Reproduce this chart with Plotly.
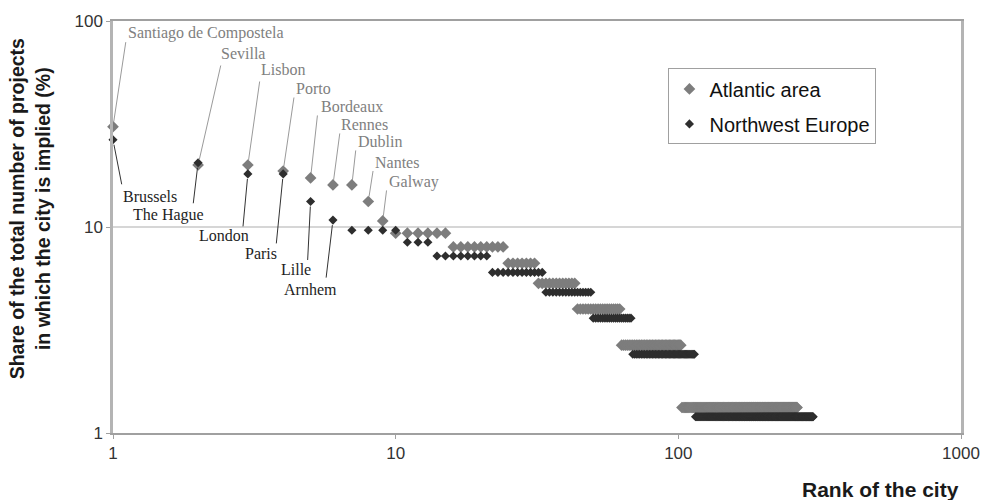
import numpy as np
import plotly.graph_objects as go

# step values (share %) and how many consecutive ranks share each value
atl_levels = [30.7, 20.0, 20.0, 18.7, 17.3, 16.0, 16.0, 13.3, 10.7, 9.33, 8.0, 6.67, 5.33, 4.0, 2.67, 1.33]
atl_counts = [1, 1, 1, 1, 1, 1, 1, 1, 1, 6, 9, 7, 12, 19, 40, 161]

nw_levels = [26.5, 20.5, 18.1, 18.1, 13.3, 10.8, 9.64, 8.43, 7.23, 6.02, 4.82, 3.61, 2.41, 1.2]
nw_counts = [1, 1, 1, 1, 1, 1, 4, 3, 8, 12, 16, 19, 46, 186]

atl_names = ["Santiago de Compostela", "Sevilla", "Lisbon", "Porto", "Bordeaux",
             "Rennes", "Dublin", "Nantes", "Galway"]
nw_names = ["Brussels", "The Hague", "London", "Paris", "Lille", "Arnhem"]

atl_share = np.repeat(atl_levels, atl_counts)
atl_rank = np.arange(1, len(atl_share) + 1)
nw_share = np.repeat(nw_levels, nw_counts)
nw_rank = np.arange(1, len(nw_share) + 1)

# label placement in pixels relative to the point: (text dx, text dy, line dx, line dy)
atl_offsets = [(14, -94, 13, -86), (22, -111, 23, -101), (12, -95, 12, -85), (12, -83, 11, -75),
               (9, -71, 7, -64), (7, -60, 7, -53), (5, -43, 4, -36), (6, -39, 5, -32), (5, -39, 4, -32)]
nw_offsets = [(9, 57, 9, 46), (-66, 52, -5, 42), (-50, 62, -5, 54), (-39, 80, -7, 71),
              (-31, 68, -3, 60), (-50, 69, -7, 59)]

ATL_COL = "#7d7d7d"
NW_COL = "#2e2e2e"

fig = go.Figure()
fig.add_trace(go.Scatter(x=atl_rank, y=atl_share, mode="markers", name="Atlantic area",
                         legendgroup="a", cliponaxis=False,
                         marker=dict(symbol="diamond", size=9, color=ATL_COL)))
fig.add_trace(go.Scatter(x=nw_rank, y=nw_share, mode="markers", name="Northwest Europe",
                         legendgroup="b", cliponaxis=False,
                         marker=dict(symbol="diamond", size=7, color=NW_COL)))

serif = "Liberation Serif"


def add_label(name, rank, share, off, tcol, lcol):
    tx, ty, lx, ly = off
    x = np.log10(rank)
    y = np.log10(share)
    fig.add_annotation(x=x, y=y, text="", showarrow=True, arrowhead=0, arrowwidth=1,
                       arrowcolor=lcol, ax=lx, ay=ly, standoff=5)
    fig.add_annotation(x=x, y=y, text=name, showarrow=False, xanchor="left", yanchor="middle",
                       xshift=tx, yshift=-ty, borderpad=0,
                       font=dict(family=serif, size=16, color=tcol))


for i, nm in enumerate(atl_names):
    add_label(nm, atl_rank[i], atl_share[i], atl_offsets[i], "#808080", "#9a9a9a")
for i, nm in enumerate(nw_names):
    add_label(nm, nw_rank[i], nw_share[i], nw_offsets[i], "#1e1e1e", "#333333")

fig.add_annotation(xref="paper", yref="paper", x=-0.098, y=0.545, textangle=-90,
                   text="Share of the total number of projects<br>in which the city is implied (%)",
                   showarrow=False, xanchor="center", yanchor="middle",
                   font=dict(family="Liberation Sans", size=19.5, color="#1a1a1a", weight="bold"))
fig.add_annotation(xref="paper", yref="paper", x=1.0, y=-0.137, text="Rank of the city",
                   showarrow=False, xanchor="right", yanchor="middle",
                   font=dict(family="Liberation Sans", size=21, color="#1a1a1a", weight="bold"))

fig.update_xaxes(type="log", range=[0, 3], tickvals=[1, 10, 100, 1000], ticktext=["1", "10", "100", "1000"],
                 showgrid=False, zeroline=False, showline=True, mirror=True, linecolor="#a0a0a0",
                 linewidth=2, ticks="outside", ticklen=4, tickcolor="#a0a0a0",
                 tickfont=dict(family="Liberation Sans", size=17, color="#333333"))
fig.update_yaxes(type="log", range=[0, 2], tickvals=[1, 10, 100], ticktext=["1", "10", "100"],
                 showgrid=True, gridcolor="#d6d6d6", gridwidth=2, zeroline=False,
                 showline=True, mirror=True, linecolor="#b4b4b4", linewidth=2.5,
                 ticks="outside", ticklen=4, tickcolor="#a0a0a0",
                 tickfont=dict(family="Liberation Sans", size=17, color="#333333"))

fig.update_layout(width=992, height=500, plot_bgcolor="white", paper_bgcolor="white",
                  margin=dict(l=113, r=29, t=18, b=67),
                  legend=dict(x=0.655, y=0.885, xanchor="left", yanchor="top",
                              bordercolor="#a0a0a0", borderwidth=1, bgcolor="white",
                              tracegroupgap=6, itemwidth=30,
                              font=dict(family="Liberation Sans", size=20, color="#111111")),
                  showlegend=True)

# the page's default body margin would shift the figure
fig.write_html("out.html", config={"displayModeBar": False},
               post_script="document.body.style.margin='0px';")
